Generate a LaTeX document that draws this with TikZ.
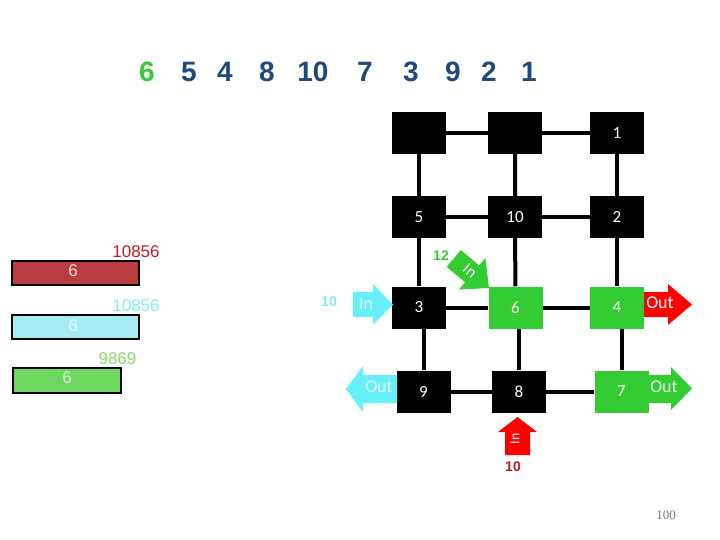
\documentclass[tikz,border=0pt]{standalone}
\usepackage{fontspec}
\setmainfont{Liberation Sans}
\newfontfamily\calib{Carlito}
\newfontfamily\serifpn{Liberation Serif}
\usetikzlibrary{backgrounds}
\definecolor{gbox}{RGB}{51,204,51}
\definecolor{cyn}{RGB}{102,240,250}
\definecolor{seqblue}{RGB}{31,73,125}
\definecolor{redbar}{RGB}{185,60,65}
\definecolor{cyanbar}{RGB}{165,235,242}
\definecolor{greenbar}{RGB}{110,215,95}
\definecolor{darkred}{RGB}{200,25,35}
\definecolor{lcyan}{RGB}{130,235,245}
\definecolor{lgreen}{RGB}{140,220,100}
\begin{document}
\begin{tikzpicture}[x=1pt,y=-1pt,
  box/.style={minimum width=54pt, minimum height=42pt, inner sep=0pt, text=white, font=\calib\fontsize{17}{17}\selectfont},
  bk/.style={box, fill=black},
  gr/.style={box, fill=gbox},
  link/.style={line width=4pt},
  seq/.style={font=\bfseries\fontsize{28}{28}\selectfont, text=seqblue, inner sep=0pt},
  arrtxt/.style={font=\calib\fontsize{18}{18}\selectfont, inner sep=0pt},
  lbl/.style={font=\bfseries\fontsize{14}{14}\selectfont, inner sep=0pt},
  num/.style={font=\fontsize{17}{17}\selectfont, inner sep=0pt},
  bar/.style={draw=black, line width=1.5pt}]
\useasboundingbox (0,0) rectangle (720,540);

% top sequence
\node[seq, text=gbox] (s1) at (147,72) {6};
\node[seq] (s2) at (189,72) {5};
\node[seq] (s3) at (225,72) {4};
\node[seq] (s4) at (267,72) {8};
\node[seq] (s5) at (313,72) {10};
\node[seq] (s6) at (365,72) {7};
\node[seq] (s7) at (411,72) {3};
\node[seq] (s8) at (453,72) {9};
\node[seq] (s9) at (489,72) {2};
\node[seq] (s10) at (529,72) {1};

% grid nodes
\node[bk] (a1) at (419,133) {};
\node[bk] (a2) at (515,133) {};
\node[bk] (a3) at (617,133) {1};
\node[bk] (b1) at (419,217) {5};
\node[bk] (b2) at (515,217) {10};
\node[bk] (b3) at (617,217) {2};
\node[bk] (c1) at (419,307.5) {3};
\node[gr] (c2) at (515.5,307.5) {6};
\node[gr] (c3) at (617,307.5) {4};
\node[bk] (d1) at (423.5,391.5) {9};
\node[bk] (d2) at (519,391.5) {8};
\node[gr] (d3) at (621.5,391.5) {7};

\begin{scope}[on background layer]
\draw[link] (a1) -- (a2) -- (a3);
\draw[link] (b1) -- (b2) -- (b3);
\draw[link] (c1) -- (c2) -- (c3);
\draw[link] (d1) -- (d2) -- (d3);
\draw[link] (a1) -- (b1) -- (c1);
\draw[link] (a2) -- (b2) -- (c2);
\draw[link] (a3) -- (b3) -- (c3);
\draw[link] (d1) -- (d1 |- c1);
\draw[link] (d2) -- (d2 |- c2);
\draw[link] (d3) -- (d3 |- c3);
\end{scope}

% block arrows
\fill[cyn] (353,292) -- (373,292) -- (373,284) -- (393,304.5) -- (373,325) -- (373,317) -- (353,317) -- cycle;
\node[arrtxt, text=white!80!cyn] (inc) at (366,304) {In};

\fill[cyn] (397,375) -- (363,375) -- (363,366) -- (346,389) -- (363,412) -- (363,403) -- (397,403) -- cycle;
\node[arrtxt, text=white!85!cyn] (outc) at (379,387) {Out};

\fill[red] (644,292) -- (668,292) -- (668,284) -- (692,304.5) -- (668,325) -- (668,317) -- (644,317) -- cycle;
\node[arrtxt, text=white] (outr) at (660,303) {Out};

\fill[gbox] (648,375) -- (671,375) -- (671,367) -- (692,388.5) -- (671,410) -- (671,403) -- (648,403) -- cycle;
\node[arrtxt, text=white!85!gbox] (outg) at (664,387) {Out};

\fill[red] (505,455) -- (505,432) -- (498,432) -- (517.5,417) -- (537,432) -- (530,432) -- (530,455) -- cycle;
\node[arrtxt, text=white, rotate=90, font=\calib\fontsize{14}{14}\selectfont] (inr) at (515,439) {In};

\begin{scope}[shift={(489,288)}, rotate=-40]
\fill[gbox] (-46,-11) -- (-22,-11) -- (-22,-20.5) -- (0,0) -- (-22,20.5) -- (-22,11) -- (-46,11) -- cycle;
\end{scope}
\node[arrtxt, text=white, rotate=-40, font=\calib\fontsize{16}{16}\selectfont] (ing) at (470,271) {In};

% labels
\node[lbl, text=gbox] (l12) at (441,256) {12};
\node[lbl, text=lcyan] (l10c) at (329,302) {10};
\node[lbl, text=darkred] (l10r) at (513,467) {10};

% bars
\draw[bar, fill=redbar] (12,261) rectangle (139,285);
\node[num, text=white!80!redbar] (r6) at (73,271) {6};
\node[num, text=darkred] (rv) at (136,252) {10856};
\draw[bar, fill=cyanbar] (12,315) rectangle (139,339);
\node[num, text=white!70!cyanbar] (c6) at (73,326) {6};
\node[num, text=lcyan] (cv) at (136,306) {10856};
\draw[bar, fill=greenbar] (13,368) rectangle (121,393);
\node[num, text=white!70!greenbar] (g6) at (67,378) {6};
\node[num, text=lgreen] (gv) at (117.5,359) {9869};

% page number
\node[font=\serifpn\fontsize{13}{13}\selectfont, text=black!55, inner sep=0pt] (pn) at (666,515) {100};
\end{tikzpicture}
\end{document}
